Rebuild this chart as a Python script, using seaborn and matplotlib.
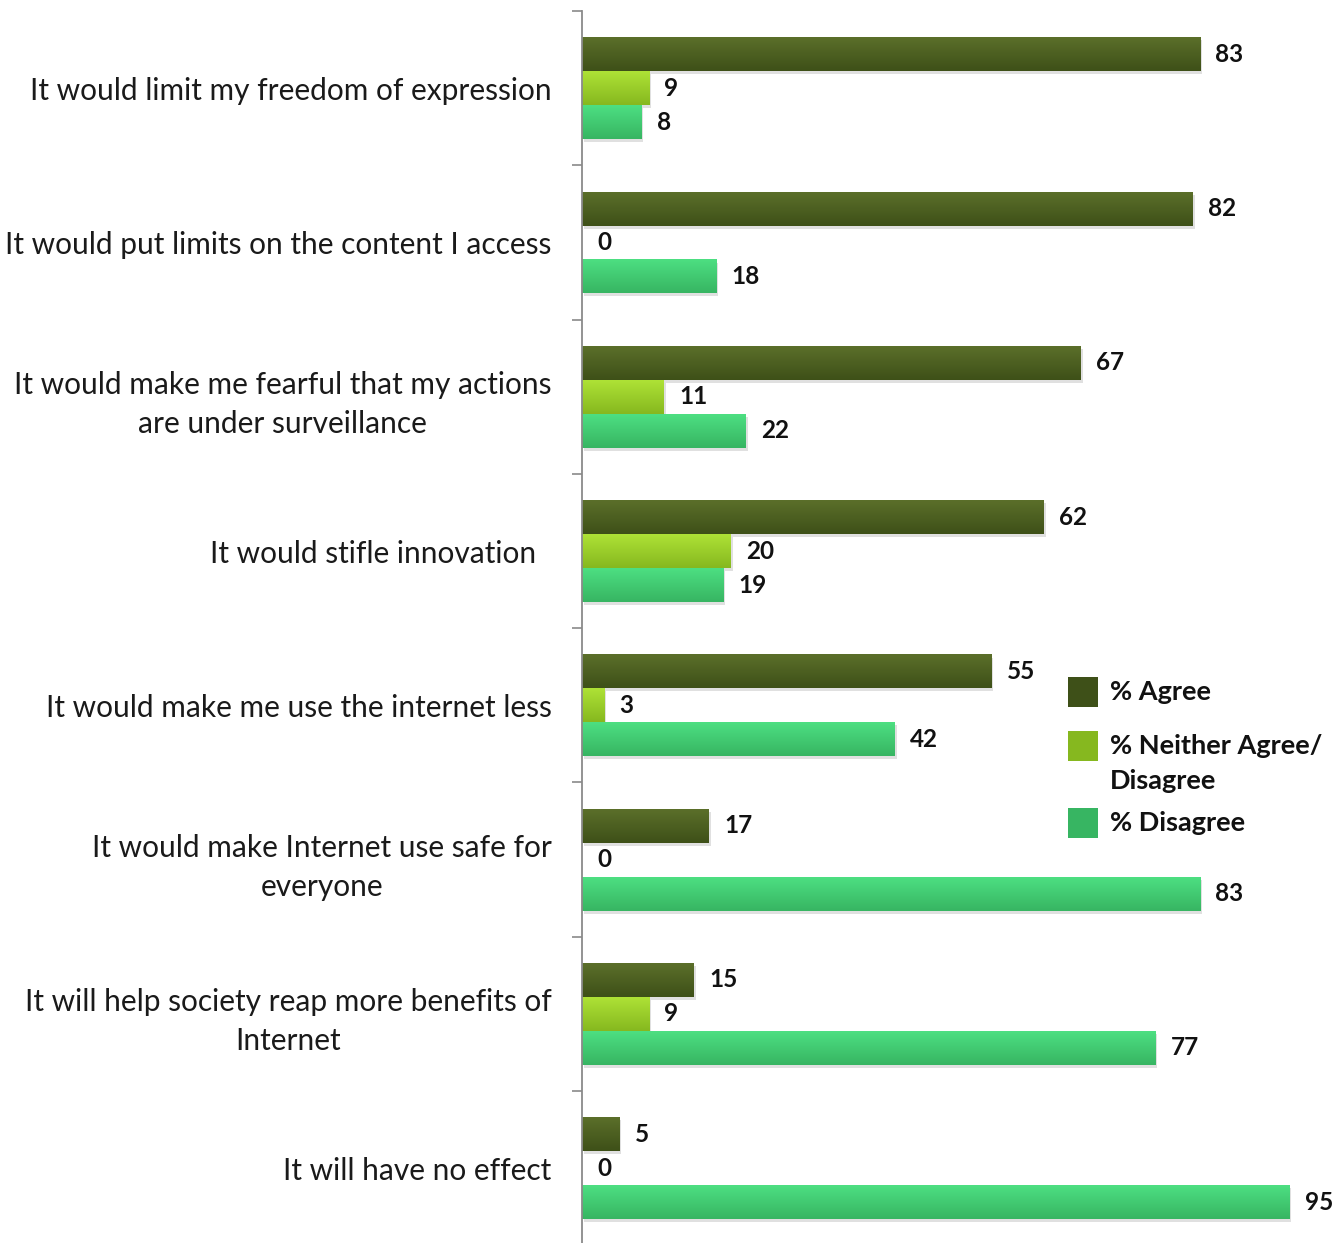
import numpy as np
import pandas as pd
import matplotlib
matplotlib.use("Agg")
import matplotlib.pyplot as plt
import matplotlib.colors as mcolors
import seaborn as sns

statements = [
    "It would limit my freedom of expression",
    "It would put limits on the content I access",
    "It would make me fearful that my actions\nare under surveillance",
    "It would stifle innovation  ",
    "It would make me use the internet less",
    "It would make Internet use safe for\neveryone",
    "It will help society reap more benefits of\nInternet",
    "It will have no effect",
]
agree = [83, 82, 67, 62, 55, 17, 15, 5]
neither = [9, 0, 11, 20, 3, 0, 9, 0]
disagree = [8, 18, 22, 19, 42, 83, 77, 95]
series_names = ["% Agree", "% Neither Agree/\nDisagree", "% Disagree"]

# top / bottom shades of each series' gradient fill
shades = {
    series_names[0]: ("#5b6f2a", "#3e5018"),
    series_names[1]: ("#aee236", "#86b81f"),
    series_names[2]: ("#4ddf82", "#37b562"),
}
flat = {k: v[1] for k, v in shades.items()}

df = pd.DataFrame({
    "statement": statements * 3,
    "series": [series_names[0]] * 8 + [series_names[1]] * 8 + [series_names[2]] * 8,
    "value": agree + neither + disagree,
})

sns.set_theme(style="white")
plt.rcParams["font.family"] = ["Lato", "DejaVu Sans"]

W, H = 1339, 1243
fig = plt.figure(figsize=(W / 100, H / 100), dpi=100)
ax = fig.add_axes([0.4347, -0.0019, 0.5561, 0.9930])

sns.barplot(data=df, y="statement", x="value", hue="series", orient="h",
            hue_order=series_names, palette=flat, width=0.66, ax=ax,
            legend=False, saturation=1)

ax.set_xlim(0, 100)
ax.set_ylim(7.5, -0.5)

# gradient fill and soft shadow for every bar
grad = np.linspace(0, 1, 64)[:, None]
for ci, cont in enumerate(ax.containers):
    top_c, bot_c = shades[series_names[ci]]
    c0 = np.array(mcolors.to_rgb(top_c))
    c1 = np.array(mcolors.to_rgb(bot_c))
    img = c0[None, None, :] * (1 - grad[:, :, None]) + c1[None, None, :] * grad[:, :, None]
    for p in cont.patches:
        if p.get_width() <= 0:
            continue
        x0, y0 = p.get_x(), p.get_y()
        w, h = p.get_width(), p.get_height()
        ylo, yhi = min(y0, y0 + h), max(y0, y0 + h)
        sh = plt.Rectangle((x0 + 0.25, ylo + 0.02), w, yhi - ylo,
                           facecolor="#000000", alpha=0.12, lw=0, zorder=1.5)
        ax.add_patch(sh)
        p.set_zorder(2)
        p.set_edgecolor("none")
        im = ax.imshow(img, extent=(x0, x0 + w, yhi, ylo), origin="upper",
                       aspect="auto", zorder=2.5, interpolation="bilinear")
        im.set_clip_path(p)
    for p, v in zip(cont.patches, [agree, neither, disagree][ci]):
        yc = p.get_y() + p.get_height() / 2
        ax.annotate(f"{v}", xy=(p.get_width(), yc), xytext=(11, 0),
                    textcoords="offset points", ha="left", va="center",
                    fontsize=17.5, fontweight="bold", color="#111111", zorder=4)

ax.set_xlim(0, 100)
ax.set_ylim(7.5, -0.5)

# axis styling
for s in ["top", "right", "bottom"]:
    ax.spines[s].set_visible(False)
ax.spines["left"].set_color("#8a8a8a")
ax.spines["left"].set_linewidth(1.3)
ax.set_xticks([])
ax.set_xlabel("")
ax.set_ylabel("")
ax.set_yticks(range(8))
ax.set_yticklabels(statements, fontsize=21.5, color="#1a1a1a",
                   multialignment="center", linespacing=1.48)
ax.tick_params(axis="y", which="major", left=False, length=0, pad=22)
ax.set_yticks(np.arange(-0.5, 8.0, 1.0), minor=True)
ax.tick_params(axis="y", which="minor", left=True, length=7, width=1.2,
               color="#8a8a8a", direction="out")

# legend: colour swatches with bold labels
def fx(px):
    return px / W

def fy(py):
    return 1 - py / H

legend_rows = [(692, 692, series_names[0]), (746, 763.5, series_names[1]), (823, 823, series_names[2])]
for sq_y, txt_y, name in legend_rows:
    fig.patches.append(plt.Rectangle((fx(1068), fy(sq_y + 15)), fx(30), 30 / H,
                                     transform=fig.transFigure, facecolor=shades[name][1],
                                     edgecolor="none"))
    fig.text(fx(1110), fy(txt_y), name, ha="left", va="center", fontsize=19.5,
             fontweight="bold", color="#111111", linespacing=1.55)

fig.savefig("out.png", dpi=100, facecolor="white")
